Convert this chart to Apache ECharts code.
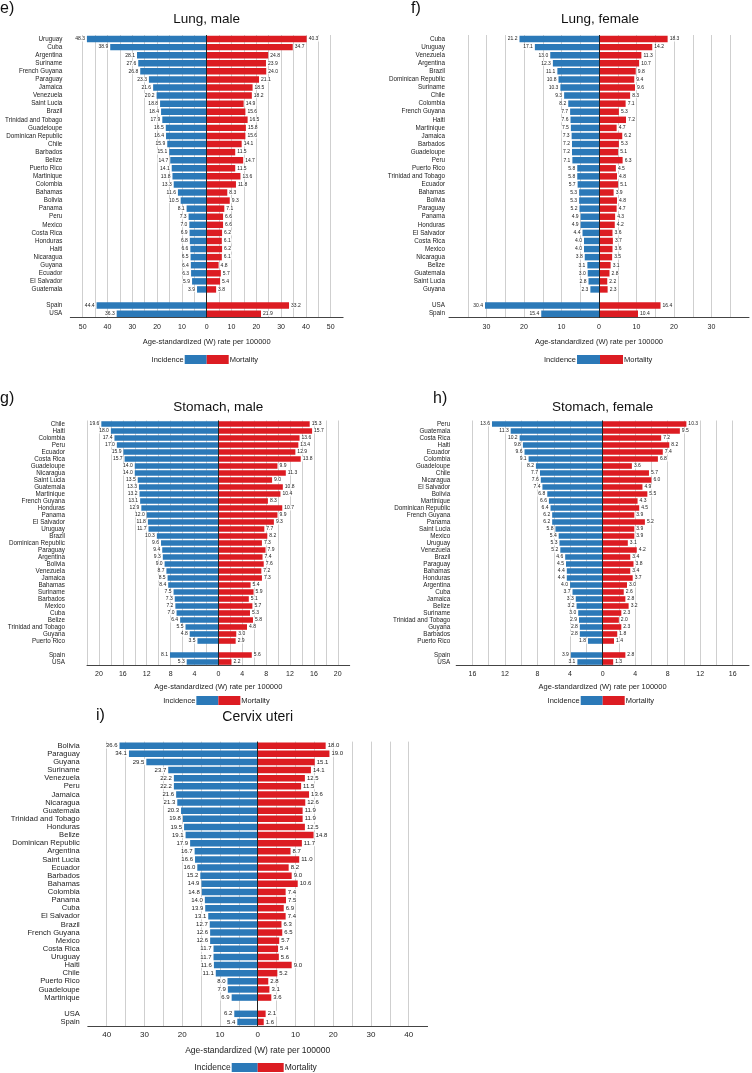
<!DOCTYPE html>
<html><head><meta charset="utf-8">
<script src="https://cdn.jsdelivr.net/npm/echarts@6/dist/echarts.min.js"></script>
<style>html,body{margin:0;padding:0;background:#fff}#c{width:752px;height:1073px}</style>
</head><body><div id="c"></div>
<script>
// ---------------- DATA ----------------
const lungMaleCountries = ['Uruguay','Cuba','Argentina','Suriname','French Guyana','Paraguay','Jamaica','Venezuela','Saint Lucia','Brazil','Trinidad and Tobago','Guadeloupe','Dominican Republic','Chile','Barbados','Belize','Puerto Rico','Martinique','Colombia','Bahamas','Bolivia','Panama','Peru','Mexico','Costa Rica','Honduras','Haiti','Nicaragua','Guyana','Ecuador','El Salvador','Guatemala'];
const lungMaleIncidence = [48.3,38.9,28.1,27.6,26.8,23.3,21.6,20.2,18.8,18.4,17.9,16.5,16.4,15.9,15.1,14.7,14.1,13.8,13.3,11.6,10.5,8.1,7.3,7.0,6.9,6.8,6.6,6.5,6.4,6.3,5.9,3.9];
const lungMaleMortality = [40.3,34.7,24.8,23.9,24.0,21.1,18.5,18.2,14.9,15.6,16.5,15.8,15.6,14.1,11.5,14.7,11.5,13.6,11.8,8.3,9.3,7.1,6.6,6.6,6.2,6.1,6.2,6.1,4.8,5.7,5.4,3.8];
const lungMaleRefs = ['Spain','USA'];
const lungMaleRefIncidence = [44.4,36.3];
const lungMaleRefMortality = [33.2,21.9];

const lungFemaleCountries = ['Cuba','Uruguay','Venezuela','Argentina','Brazil','Dominican Republic','Suriname','Chile','Colombia','French Guyana','Haiti','Martinique','Jamaica','Barbados','Guadeloupe','Peru','Puerto Rico','Trinidad and Tobago','Ecuador','Bahamas','Bolivia','Paraguay','Panama','Honduras','El Salvador','Costa Rica','Mexico','Nicaragua','Belize','Guatemala','Saint Lucia','Guyana'];
const lungFemaleIncidence = [21.2,17.1,13.0,12.3,11.1,10.8,10.3,9.3,8.2,7.7,7.6,7.5,7.3,7.2,7.2,7.1,5.8,5.8,5.7,5.3,5.3,5.2,4.9,4.9,4.4,4.0,4.0,3.8,3.1,3.0,2.8,2.3];
const lungFemaleMortality = [18.3,14.2,11.3,10.7,9.8,9.4,9.6,8.3,7.1,5.3,7.2,4.7,6.2,5.3,5.1,6.3,4.5,4.8,5.1,3.9,4.8,4.7,4.3,4.2,3.6,3.7,3.6,3.5,3.1,2.8,2.2,2.3];
const lungFemaleRefs = ['USA','Spain'];
const lungFemaleRefIncidence = [30.4,15.4];
const lungFemaleRefMortality = [16.4,10.4];

const stomachMaleCountries = ['Chile','Haiti','Colombia','Peru','Ecuador','Costa Rica','Guadeloupe','Nicaragua','Saint Lucia','Guatemala','Martinique','French Guyana','Honduras','Panama','El Salvador','Uruguay','Brazil','Dominican Republic','Paraguay','Argentina','Bolivia','Venezuela','Jamaica','Bahamas','Suriname','Barbados','Mexico','Cuba','Belize','Trinidad and Tobago','Guyana','Puerto Rico'];
const stomachMaleIncidence = [19.6,18.0,17.4,17.0,15.9,15.7,14.0,14.0,13.5,13.3,13.2,13.1,12.9,12.0,11.8,11.7,10.3,9.6,9.4,9.3,9.0,8.7,8.5,8.4,7.5,7.3,7.2,7.0,6.4,5.5,4.8,3.5];
const stomachMaleMortality = [15.3,15.7,13.6,13.4,12.9,13.8,9.9,11.3,9.0,10.8,10.4,8.3,10.7,9.9,9.3,7.7,8.2,7.3,7.9,7.4,7.6,7.2,7.3,5.4,5.9,5.1,5.7,5.3,5.8,4.8,3.0,2.9];
const stomachMaleRefs = ['Spain','USA'];
const stomachMaleRefIncidence = [8.1,5.3];
const stomachMaleRefMortality = [5.6,2.2];

const stomachFemaleCountries = ['Peru','Guatemala','Costa Rica','Haiti','Ecuador','Colombia','Guadeloupe','Chile','Nicaragua','El Salvador','Bolivia','Martinique','Dominican Republic','French Guyana','Panama','Saint Lucia','Mexico','Uruguay','Venezuela','Brazil','Paraguay','Bahamas','Honduras','Argentina','Cuba','Jamaica','Belize','Suriname','Trinidad and Tobago','Guyana','Barbados','Puerto Rico'];
const stomachFemaleIncidence = [13.6,11.3,10.2,9.8,9.6,9.1,8.2,7.7,7.6,7.4,6.8,6.6,6.4,6.2,6.2,5.8,5.4,5.3,5.2,4.6,4.5,4.4,4.4,4.0,3.7,3.3,3.2,3.0,2.9,2.8,2.8,1.8];
const stomachFemaleMortality = [10.3,9.5,7.2,8.2,7.4,6.8,3.6,5.7,6.0,4.9,5.5,4.3,4.5,3.9,5.2,3.9,3.9,3.1,4.2,3.4,3.8,3.4,3.7,3.0,2.6,2.8,3.2,2.3,2.0,2.3,1.8,1.4];
const stomachFemaleRefs = ['Spain','USA'];
const stomachFemaleRefIncidence = [3.9,3.1];
const stomachFemaleRefMortality = [2.8,1.3];

const cervixCountries = ['Bolivia','Paraguay','Guyana','Suriname','Venezuela','Peru','Jamaica','Nicaragua','Guatemala','Trinidad and Tobago','Honduras','Belize','Dominican Republic','Argentina','Saint Lucia','Ecuador','Barbados','Bahamas','Colombia','Panama','Cuba','El Salvador','Brazil','French Guyana','Mexico','Costa Rica','Uruguay','Haiti','Chile','Puerto Rico','Guadeloupe','Martinique'];
const cervixIncidence = [36.6,34.1,29.5,23.7,22.2,22.2,21.6,21.3,20.3,19.8,19.5,19.1,17.9,16.7,16.6,16.0,15.2,14.9,14.8,14.0,13.9,13.1,12.7,12.6,12.6,11.7,11.7,11.6,11.1,8.0,7.9,6.9];
const cervixMortality = [18.0,19.0,15.1,14.1,12.5,11.5,13.6,12.6,11.9,11.9,12.5,14.8,11.7,8.7,11.0,8.2,9.0,10.6,7.4,7.5,6.9,7.4,6.3,6.5,5.7,5.4,5.6,9.0,5.2,2.8,3.1,3.6];
const cervixRefs = ['USA','Spain'];
const cervixRefIncidence = [6.2,5.4];
const cervixRefMortality = [2.1,1.6];

const panelLetters = ['e)','f)','g)','h)','i)'];
const panelTitles = ['Lung, male','Lung, female','Stomach, male','Stomach, female','Cervix uteri'];
const axisTitle = 'Age-standardized (W) rate per 100000';
const seriesNames = ['Incidence','Mortality'];

// ---------------- LAYOUT / STYLE ----------------
const W = 752;
const FONT = "'Liberation Sans Narrow','Liberation Sans',Arial,sans-serif";
const BLUE = '#2b79b8', RED = '#dc1c22';
const panelData = [
  [lungMaleCountries, lungMaleIncidence, lungMaleMortality, lungMaleRefs, lungMaleRefIncidence, lungMaleRefMortality],
  [lungFemaleCountries, lungFemaleIncidence, lungFemaleMortality, lungFemaleRefs, lungFemaleRefIncidence, lungFemaleRefMortality],
  [stomachMaleCountries, stomachMaleIncidence, stomachMaleMortality, stomachMaleRefs, stomachMaleRefIncidence, stomachMaleRefMortality],
  [stomachFemaleCountries, stomachFemaleIncidence, stomachFemaleMortality, stomachFemaleRefs, stomachFemaleRefIncidence, stomachFemaleRefMortality],
  [cervixCountries, cervixIncidence, cervixMortality, cervixRefs, cervixRefIncidence, cervixRefMortality]
];
const layouts = [
  {left:70.3, width:272.8, top:35, height:282.7, min:-55, max:55, step:5, labelStep:10, labelMax:50, showMin:false,
   yMargin:8, catFont:6.3, valFont:5, tickFont:7, nameFont:7.5, nameGap:20, tickMargin:5.5,
   letterX:0, letterY:1, titleY:12, titleFont:13.5, legendTop:355, legW:22, legH:9, legFont:7.5},
  {left:449, width:302, top:35, height:282.7, min:-40, max:40, step:5, labelStep:10, labelMax:30, showMin:false,
   yMargin:4, catFont:6.3, valFont:5, tickFont:7, nameFont:7.5, nameGap:20, tickMargin:5.5,
   letterX:411, letterY:1, titleY:12, titleFont:13.5, legendTop:355, legW:23, legH:9, legFont:7.5},
  {left:87, width:262.7, top:420.5, height:245, min:-22, max:22, step:2, labelStep:4, labelMax:20, showMin:true,
   yMargin:22, catFont:6.3, valFont:5, tickFont:7, nameFont:7.5, nameGap:17, tickMargin:5.5,
   letterX:0, letterY:391, titleY:400, titleFont:13.5, legendTop:696, legW:22, legH:9, legFont:7.5},
  {left:456.2, width:293, top:420.5, height:245, min:-18, max:18, step:2, labelStep:4, labelMax:16, showMin:false,
   yMargin:6, catFont:6.3, valFont:5, tickFont:7, nameFont:7.5, nameGap:17, tickMargin:5.5,
   letterX:433, letterY:391, titleY:400, titleFont:13.5, legendTop:696, legW:22, legH:9, legFont:7.5},
  {left:87.8, width:339.8, top:741.6, height:284.4, min:-45, max:45, step:5, labelStep:10, labelMax:40, showMin:false,
   yMargin:8, catFont:7.6, valFont:6, tickFont:8, nameFont:8.5, nameGap:20, tickMargin:5,
   letterX:96, letterY:708, titleY:710, titleFont:14, legendTop:1063, legW:26, legH:9, legFont:8.5}
];

const grids = [], xAxes = [], yAxes = [], series = [], titles = [], legends = [];
panelData.forEach((d, i) => {
  const [countries, inc, mort, refs, refInc, refMort] = d;
  const L = layouts[i];
  const zeroX = L.left + L.width * (-L.min) / (L.max - L.min);
  const cats = countries.concat([''], refs);
  const incData = inc.map(v => -v).concat(['-'], refInc.map(v => -v));
  const mortData = mort.slice().concat(['-'], refMort);

  grids.push({left:L.left, width:L.width, top:L.top, height:L.height});
  xAxes.push({
    type:'value', gridIndex:i, min:L.min, max:L.max, interval:L.step,
    axisLine:{show:true, onZero:false, lineStyle:{color:'#444', width:1}},
    axisTick:{show:false},
    splitLine:{show:true, showMinLine:L.showMin, showMaxLine:false, lineStyle:{color:'#cfcfcf', width:1}},
    axisLabel:{fontFamily:FONT, fontSize:L.tickFont, color:'#222', margin:L.tickMargin,
      formatter: v => { const a = Math.abs(Math.round(v)); return (a % L.labelStep === 0 && a <= L.labelMax) ? String(a) : ''; }},
    name:axisTitle, nameLocation:'middle', nameGap:L.nameGap,
    nameTextStyle:{fontFamily:FONT, fontSize:L.nameFont, color:'#222'}
  });
  yAxes.push({
    type:'category', gridIndex:i, inverse:true, data:cats,
    axisLine:{show:false}, axisTick:{show:false}, splitLine:{show:false},
    axisLabel:{interval:0, fontFamily:FONT, fontSize:L.catFont, color:'#222', margin:L.yMargin}
  });
  const lab = {show:true, distance:1, fontFamily:FONT, fontSize:L.valFont, color:'#222',
    backgroundColor:'rgba(255,255,255,0.85)', padding:[0,1],
    formatter: p => Math.abs(p.value).toFixed(1)};
  series.push({
    name:seriesNames[0], type:'bar', xAxisIndex:i, yAxisIndex:i, stack:'s'+i, data:incData,
    barCategoryGap:'20%', itemStyle:{color:BLUE},
    label:Object.assign({position:'left'}, lab),
    markLine:{silent:true, symbol:['none','none'], label:{show:false},
      lineStyle:{color:'#222', width:1, type:'solid'}, data:[{xAxis:0}], animation:false}
  });
  series.push({
    name:seriesNames[1], type:'bar', xAxisIndex:i, yAxisIndex:i, stack:'s'+i, data:mortData,
    barCategoryGap:'20%', itemStyle:{color:RED},
    label:Object.assign({position:'right'}, lab)
  });
  titles.push({text:panelLetters[i], left:L.letterX, top:L.letterY, padding:0,
    textStyle:{fontFamily:"'Liberation Sans',Arial,sans-serif", fontSize:16, fontWeight:'normal', color:'#111'}});
  titles.push({text:panelTitles[i], left:zeroX, top:L.titleY, textAlign:'center', padding:0,
    textStyle:{fontFamily:FONT, fontSize:L.titleFont, fontWeight:'normal', color:'#111'}});
  legends.push({data:[seriesNames[0]], align:'right', right:W - zeroX, top:L.legendTop, padding:0, itemGap:0,
    itemWidth:L.legW, itemHeight:L.legH, icon:'rect', selectedMode:false,
    textStyle:{fontFamily:FONT, fontSize:L.legFont, color:'#222', padding:[0,-4,0,0]}});
  legends.push({data:[seriesNames[1]], align:'left', left:zeroX, top:L.legendTop, padding:0, itemGap:0,
    itemWidth:L.legW, itemHeight:L.legH, icon:'rect', selectedMode:false,
    textStyle:{fontFamily:FONT, fontSize:L.legFont, color:'#222', padding:[0,0,0,-4]}});
});

const chart = echarts.init(document.getElementById('c'), null, {renderer:'canvas'});
chart.setOption({
  animation:false, backgroundColor:'#fff',
  title:titles, legend:legends, grid:grids, xAxis:xAxes, yAxis:yAxes, series:series
});
</script></body></html>
